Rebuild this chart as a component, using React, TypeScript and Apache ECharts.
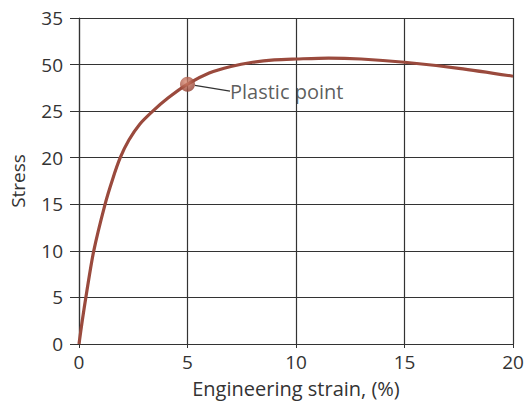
import React, { useEffect, useRef } from "react";
import * as echarts from "echarts";

const strain = [0, 0.15, 0.35, 0.68, 1.2, 1.55, 1.9, 2.3, 2.8, 3.4, 4.1, 5, 6, 7, 8, 9, 10, 11.5, 13, 15, 17.5, 20];
const stress = [0, 2.5, 5.5, 10, 15, 17.7, 20, 21.9, 23.6, 25.0, 26.4, 27.9, 29.1, 29.8, 30.25, 30.5, 30.6, 30.7, 30.6, 30.25, 29.6, 28.75];
const yTickLabels = ["0", "5", "10", "15", "20", "25", "50", "35"];
const xTickLabels = ["0", "5", "10", "15", "20"];
const plasticPoint = { strain: 5, stress: 27.9, label: "Plastic point" };

const FONT = "Open Sans";

export default function App() {
  const ref = useRef<HTMLDivElement>(null);
  useEffect(() => {
    if (!ref.current) return;
    const chart = echarts.init(ref.current, undefined, { renderer: "svg" });
    chart.setOption({
      animation: false,
      backgroundColor: "#ffffff",
      grid: { left: 78, right: 16, top: 18, bottom: 61 },
      xAxis: {
        type: "value",
        min: 0,
        max: 20,
        interval: 5,
        name: "Engineering strain, (%)",
        nameLocation: "middle",
        nameGap: 34,
        nameTextStyle: { fontFamily: FONT, fontSize: 20, color: "#333" },
        axisLine: { show: true, lineStyle: { color: "#333", width: 1.2 } },
        axisTick: { show: true, length: 4, lineStyle: { color: "#333" } },
        axisLabel: {
          fontFamily: FONT,
          fontSize: 19,
          color: "#333",
          margin: 8,
          formatter: (v: number) => xTickLabels[Math.round(v / 5)] ?? "",
        },
        splitLine: { show: true, lineStyle: { color: "#333", width: 1.2 } },
      },
      yAxis: {
        type: "value",
        min: 0,
        max: 35,
        interval: 5,
        name: "Stress",
        nameLocation: "middle",
        nameGap: 52,
        nameRotate: 90,
        nameTextStyle: { fontFamily: FONT, fontSize: 19, color: "#333" },
        axisLine: { show: true, lineStyle: { color: "#333", width: 1.2 } },
        axisTick: { show: true, length: 9, lineStyle: { color: "#333" } },
        axisLabel: {
          fontFamily: FONT,
          fontSize: 19,
          color: "#333",
          margin: 16,
          formatter: (v: number) => yTickLabels[Math.round(v / 5)] ?? "",
        },
        splitLine: { show: true, lineStyle: { color: "#333", width: 1.2 } },
      },
      series: [
        {
          type: "line",
          data: strain.map((x, i) => [x, stress[i]]),
          smooth: 0.3,
          showSymbol: false,
          lineStyle: { color: "#9a4a3d", width: 3.2 },
          z: 3,
        },
        {
          type: "scatter",
          data: [[plasticPoint.strain, plasticPoint.stress]],
          symbolSize: 15,
          itemStyle: {
            color: {
              type: "radial",
              x: 0.4,
              y: 0.35,
              r: 0.7,
              colorStops: [
                { offset: 0, color: "#d98a72" },
                { offset: 1, color: "#8e3a2c" },
              ],
            },
          },
          label: {
            show: true,
            position: "right",
            distance: 4,
            formatter: plasticPoint.label,
            fontFamily: FONT,
            fontSize: 20,
            color: "#333",
          },
          labelLayout: { dx: 31, dy: 7 },
          labelLine: { show: true, lineStyle: { color: "#333", width: 1.2 } },
          z: 4,
        },
      ],
    });
    return () => chart.dispose();
  }, []);
  return (
    <div
      ref={ref}
      style={{ position: "absolute", left: 0, top: 0, width: 529, height: 405 }}
    />
  );
}
